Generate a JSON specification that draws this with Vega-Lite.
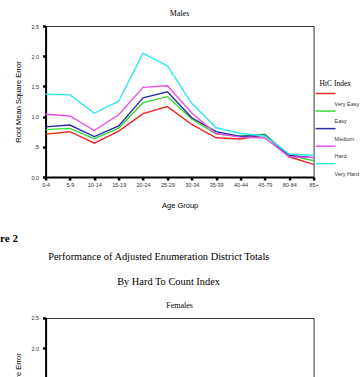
{
  "$schema": "https://vega.github.io/schema/vega-lite/v6.json",
  "padding": {"left": -21.4, "top": 9, "right": 0, "bottom": 0},
  "background": "white",
  "spacing": 22,
  "config": {
    "font": "Liberation Sans",
    "view": {"stroke": "#333333", "strokeWidth": 1},
    "title": {"font": "Liberation Serif", "fontSize": 8, "fontWeight": "normal", "color": "#000000"},
    "axis": {
      "grid": false,
      "domainColor": "#000000",
      "domainWidth": 2,
      "tickColor": "#000000",
      "tickWidth": 2.5,
      "tickSize": 3,
      "labelFont": "Liberation Sans",
      "labelFontSize": 5.5,
      "labelColor": "#333333",
      "titleFont": "Liberation Sans",
      "titleFontSize": 7.5,
      "titleFontWeight": "normal",
      "titleColor": "#000000"
    },
    "axisX": {"labelAngle": 0, "labelPadding": 2, "titlePadding": 14, "labelOverlap": false},
    "axisY": {"labelPadding": 4, "titlePadding": 8},
    "legend": {
      "orient": "none",
      "legendX": 274,
      "legendY": 54,
      "padding": 0,
      "titleFont": "Liberation Serif",
      "titleFontSize": 7.5,
      "titleFontWeight": "normal",
      "titleColor": "#000000",
      "titlePadding": 10,
      "symbolType": "M-2,-2H2",
      "symbolSize": 100,
      "symbolStrokeWidth": 1.5,
      "labelFont": "Liberation Sans",
      "labelFontSize": 5.5,
      "labelColor": "#333333",
      "labelBaseline": "middle",
      "labelOffset": 3,
      "rowPadding": 0.55
    }
  },
  "datasets": {
    "males": [
      {"age": "0-4", "htc": "Very Easy", "rmse": 0.71},
      {"age": "5-9", "htc": "Very Easy", "rmse": 0.75},
      {"age": "10-14", "htc": "Very Easy", "rmse": 0.56},
      {"age": "15-19", "htc": "Very Easy", "rmse": 0.76},
      {"age": "20-24", "htc": "Very Easy", "rmse": 1.05},
      {"age": "25-29", "htc": "Very Easy", "rmse": 1.165},
      {"age": "30-34", "htc": "Very Easy", "rmse": 0.87},
      {"age": "35-39", "htc": "Very Easy", "rmse": 0.65},
      {"age": "40-44", "htc": "Very Easy", "rmse": 0.63},
      {"age": "45-79", "htc": "Very Easy", "rmse": 0.7},
      {"age": "80-84", "htc": "Very Easy", "rmse": 0.335},
      {"age": "85+", "htc": "Very Easy", "rmse": 0.21},
      {"age": "0-4", "htc": "Easy", "rmse": 0.785},
      {"age": "5-9", "htc": "Easy", "rmse": 0.805},
      {"age": "10-14", "htc": "Easy", "rmse": 0.635},
      {"age": "15-19", "htc": "Easy", "rmse": 0.81},
      {"age": "20-24", "htc": "Easy", "rmse": 1.23},
      {"age": "25-29", "htc": "Easy", "rmse": 1.33},
      {"age": "30-34", "htc": "Easy", "rmse": 0.96},
      {"age": "35-39", "htc": "Easy", "rmse": 0.71},
      {"age": "40-44", "htc": "Easy", "rmse": 0.68},
      {"age": "45-79", "htc": "Easy", "rmse": 0.71},
      {"age": "80-84", "htc": "Easy", "rmse": 0.36},
      {"age": "85+", "htc": "Easy", "rmse": 0.27},
      {"age": "0-4", "htc": "Medium", "rmse": 0.83},
      {"age": "5-9", "htc": "Medium", "rmse": 0.86},
      {"age": "10-14", "htc": "Medium", "rmse": 0.67},
      {"age": "15-19", "htc": "Medium", "rmse": 0.845},
      {"age": "20-24", "htc": "Medium", "rmse": 1.31},
      {"age": "25-29", "htc": "Medium", "rmse": 1.41},
      {"age": "30-34", "htc": "Medium", "rmse": 0.98},
      {"age": "35-39", "htc": "Medium", "rmse": 0.75},
      {"age": "40-44", "htc": "Medium", "rmse": 0.67},
      {"age": "45-79", "htc": "Medium", "rmse": 0.69},
      {"age": "80-84", "htc": "Medium", "rmse": 0.355},
      {"age": "85+", "htc": "Medium", "rmse": 0.32},
      {"age": "0-4", "htc": "Hard", "rmse": 1.04},
      {"age": "5-9", "htc": "Hard", "rmse": 1.01},
      {"age": "10-14", "htc": "Hard", "rmse": 0.77},
      {"age": "15-19", "htc": "Hard", "rmse": 1.03},
      {"age": "20-24", "htc": "Hard", "rmse": 1.485},
      {"age": "25-29", "htc": "Hard", "rmse": 1.51},
      {"age": "30-34", "htc": "Hard", "rmse": 1.06},
      {"age": "35-39", "htc": "Hard", "rmse": 0.72},
      {"age": "40-44", "htc": "Hard", "rmse": 0.66},
      {"age": "45-79", "htc": "Hard", "rmse": 0.645},
      {"age": "80-84", "htc": "Hard", "rmse": 0.335},
      {"age": "85+", "htc": "Hard", "rmse": 0.32},
      {"age": "0-4", "htc": "Very Hard", "rmse": 1.37},
      {"age": "5-9", "htc": "Very Hard", "rmse": 1.36},
      {"age": "10-14", "htc": "Very Hard", "rmse": 1.055},
      {"age": "15-19", "htc": "Very Hard", "rmse": 1.255},
      {"age": "20-24", "htc": "Very Hard", "rmse": 2.05},
      {"age": "25-29", "htc": "Very Hard", "rmse": 1.84},
      {"age": "30-34", "htc": "Very Hard", "rmse": 1.22},
      {"age": "35-39", "htc": "Very Hard", "rmse": 0.815},
      {"age": "40-44", "htc": "Very Hard", "rmse": 0.72},
      {"age": "45-79", "htc": "Very Hard", "rmse": 0.68},
      {"age": "80-84", "htc": "Very Hard", "rmse": 0.38},
      {"age": "85+", "htc": "Very Hard", "rmse": 0.36}
    ],
    "females": []
  },
  "vconcat": [
    {
      "title": {"text": "Males", "fontSize": 8, "offset": 6},
      "width": 268,
      "height": 151,
      "data": {"name": "males"},
      "mark": {"type": "line", "strokeWidth": 1.4},
      "encoding": {
        "x": {
          "field": "age", "type": "ordinal", "title": "Age Group",
          "sort": ["0-4", "5-9", "10-14", "15-19", "20-24", "25-29", "30-34", "35-39", "40-44", "45-79", "80-84", "85+"],
          "scale": {"type": "point", "padding": 0}
        },
        "y": {
          "field": "rmse", "type": "quantitative", "title": "Root Mean Square Error",
          "scale": {"domain": [0, 2.5]},
          "axis": {"values": [0, 0.5, 1, 1.5, 2, 2.5], "labelExpr": "datum.value == 0.5 ? '.5' : format(datum.value, '.1f')"}
        },
        "color": {
          "field": "htc", "type": "nominal", "title": "HtC Index",
          "scale": {
            "domain": ["Very Easy", "Easy", "Medium", "Hard", "Very Hard"],
            "range": ["#e82a22", "#3ad83a", "#2a2aa8", "#e850e8", "#30e8e8"]
          }
        }
      }
    },
    {
      "title": {"text": "Figure 2", "anchor": "start", "frame": "bounds", "dx": -35.7, "font": "Liberation Serif", "fontSize": 11, "fontWeight": "bold", "offset": 8},
      "vconcat": [
        {
          "title": {"text": "Performance of Adjusted Enumeration District Totals", "anchor": "start", "frame": "bounds", "fontSize": 10.4, "dx": 33.7, "offset": 15},
          "vconcat": [
            {
              "title": {"text": "By Hard To Count Index", "anchor": "start", "frame": "bounds", "fontSize": 10.4, "dx": 102.7, "offset": 14},
              "vconcat": [
                {
                  "title": {"text": "Females", "fontSize": 8, "offset": 6},
                  "width": 268,
                  "height": 151,
                  "data": {"name": "females"},
                  "mark": {"type": "line", "strokeWidth": 1.4},
                  "encoding": {
                    "x": {
                      "field": "age", "type": "ordinal", "title": "Age Group",
                      "scale": {"type": "point", "padding": 0, "domain": ["0-4", "5-9", "10-14", "15-19", "20-24", "25-29", "30-34", "35-39", "40-44", "45-79", "80-84", "85+"]}
                    },
                    "y": {
                      "field": "rmse", "type": "quantitative", "title": "Root Mean Square Error",
                      "scale": {"domain": [0, 2.5]},
                      "axis": {"values": [0, 0.5, 1, 1.5, 2, 2.5], "labelExpr": "datum.value == 0.5 ? '.5' : format(datum.value, '.1f')"}
                    },
                    "color": {
                      "field": "htc", "type": "nominal", "title": "HtC Index",
                      "scale": {
                        "domain": ["Very Easy", "Easy", "Medium", "Hard", "Very Hard"],
                        "range": ["#e82a22", "#3ad83a", "#2a2aa8", "#e850e8", "#30e8e8"]
                      }
                    }
                  }
                }
              ]
            }
          ]
        }
      ]
    }
  ]
}
